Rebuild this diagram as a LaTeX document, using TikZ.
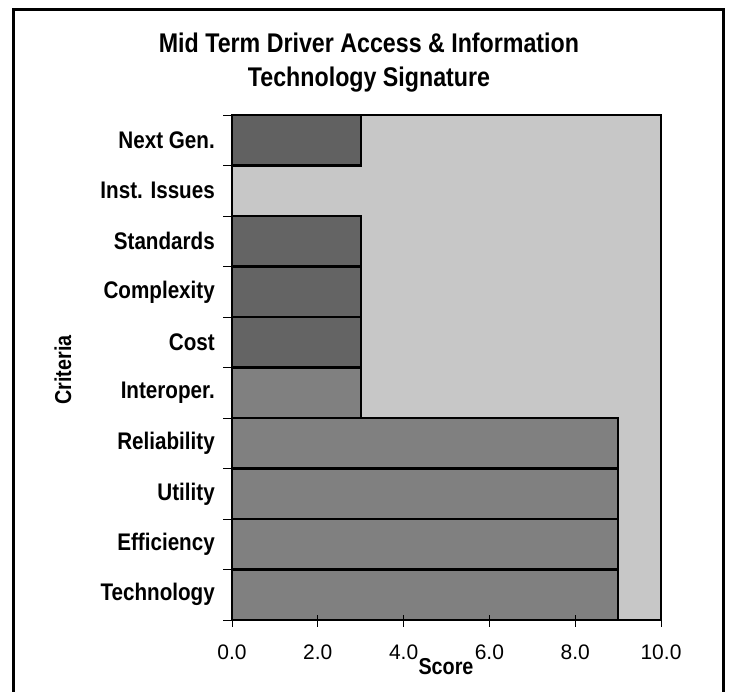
\documentclass[tikz,border=0pt]{standalone}
\usepackage{fontspec}
\setmainfont{Liberation Sans}[FakeStretch=0.86]
\newfontfamily\ticksfont{Liberation Sans}
\usepackage{tikz}
\definecolor{plotgray}{gray}{0.78}
\definecolor{bargray}{gray}{0.50}
\definecolor{darkbar}{gray}{0.38}
\tikzset{
    bar/.style={draw=black,line width=2.2pt,fill=bargray},
    critlabel/.style={anchor=east,inner sep=0pt,font=\fontsize{24}{28}\selectfont\bfseries},
    scorelabel/.style={inner sep=0pt,font=\ticksfont\fontsize{21}{25}\selectfont},
    axistitle/.style={inner sep=0pt,font=\fontsize{23}{26}\selectfont\bfseries}
}

\begin{document}
\begin{tikzpicture}[x=1pt,y=-1pt]
    \useasboundingbox (0,0) rectangle (731,691);
    \fill[white] (0,0) rectangle (731,691);
    \draw[line width=3pt] (13,720) -- (13,9) -- (723,9) -- (723,720);
    % title
    \node[axistitle,font=\fontsize{27}{30}\selectfont\bfseries] (title1) at (369,43) {Mid Term Driver Access \& Information};
    \node[axistitle,font=\fontsize{27}{30}\selectfont\bfseries] (title2) at (369,80) {Technology Signature};
    % plot area
    \draw[fill=plotgray,line width=1.4pt] (232,115) rectangle (661,620);
    \draw[bar,fill=darkbar] (232,115) rectangle (360.7,165.5);
    \draw[bar,fill=darkbar!90!bargray] (232,216) rectangle (360.7,266.5);
    \draw[bar,fill=darkbar!90!bargray] (232,266.5) rectangle (360.7,317);
    \draw[bar,fill=darkbar!90!bargray] (232,317) rectangle (360.7,367.5);
    \draw[bar] (232,367.5) rectangle (360.7,418);
    \draw[bar] (232,418) rectangle (618.1,468.5);
    \draw[bar] (232,468.5) rectangle (618.1,519);
    \draw[bar] (232,519) rectangle (618.1,569.5);
    \draw[bar] (232,569.5) rectangle (618.1,620);
    % axes
    \draw[line width=1.8pt] (232,115) -- (232,620) -- (661,620);
    \foreach \y in {115,165.5,216,266.5,317,367.5,418,468.5,519,569.5,620}
        \draw[line width=1pt] (223,\y) -- (232,\y);
    \foreach \x in {232,317.8,403.6,489.4,575.2,661}
        \draw[line width=1pt] (\x,615) -- (\x,627);
    % criteria
    \node[critlabel] (nextgen) at (215,140.3) {Next Gen.};
    \node[critlabel] (instissues) at (215,190.8) {Inst. Issues};
    \node[critlabel] (standards) at (215,241.3) {Standards};
    \node[critlabel] (complexity) at (215,291.8) {Complexity};
    \node[critlabel] (cost) at (215,342.3) {Cost};
    \node[critlabel] (interoper) at (215,392.8) {Interoper.};
    \node[critlabel] (reliability) at (215,443.3) {Reliability};
    \node[critlabel] (utility) at (215,493.8) {Utility};
    \node[critlabel] (efficiency) at (215,544.3) {Efficiency};
    \node[critlabel] (technology) at (215,594.8) {Technology};
    % scores
    \node[scorelabel] (s0) at (232,652) {0.0};
    \node[scorelabel] (s2) at (317.8,652) {2.0};
    \node[scorelabel] (s4) at (403.6,652) {4.0};
    \node[scorelabel] (s6) at (489.4,652) {6.0};
    \node[scorelabel] (s8) at (575.2,652) {8.0};
    \node[scorelabel] (s10) at (661,652) {10.0};
    \node[axistitle] (score) at (446,667) {Score};
    \node[axistitle,rotate=90] (criteria) at (63,370) {Criteria};
\end{tikzpicture}
\end{document}
